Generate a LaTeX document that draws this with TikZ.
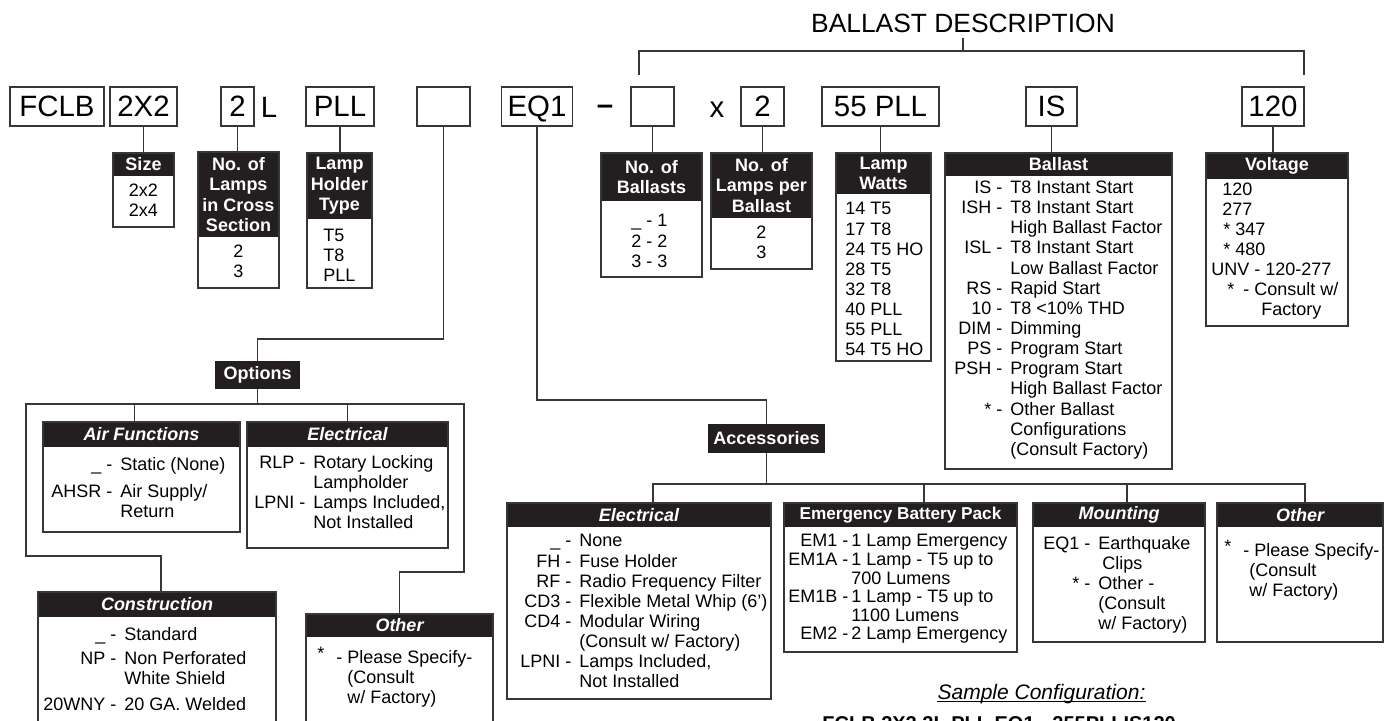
\documentclass[tikz,border=0pt]{standalone}
\usepackage{fontspec}
\usepackage{array}
\setmainfont{Liberation Sans}
\usetikzlibrary{positioning,fit}
\definecolor{barfill}{RGB}{35,31,32}
\definecolor{inkline}{RGB}{55,55,55}
% code column, dash, text column
\newcolumntype{K}{@{}r@{\hspace{2.5pt}}c@{\hspace{4pt}}l@{}}

% one table: name, x1, y1, x2, y2, foot of header bar, header text
\newcommand\opttable[7]{%
  \node[headbar, fit={(#2,#3) (#4,#6)}] (#1h) {};
  \node[headtext] (#1t) at (#1h.center) {#7};
  \node[tablebox, fit={(#2,#3) (#4,#5)}] (#1) {};
}

\begin{document}
\begin{tikzpicture}[x=0.5pt, y=-0.5pt,
  wire/.style={draw=inkline, line width=0.55pt},
  codebox/.style={draw=inkline, line width=0.65pt, inner sep=0pt,
    minimum height=19.5pt, text height=10.5pt, text depth=0pt,
    font=\fontsize{14.7}{16}\selectfont},
  codechar/.style={inner sep=0pt, anchor=base, font=\fontsize{14.7}{16}\selectfont},
  tablebox/.style={draw=inkline, line width=0.65pt, inner sep=0pt},
  headbar/.style={fill=barfill, inner sep=0pt},
  headtext/.style={text=white, inner sep=0pt, align=center,
    font=\bfseries\fontsize{9}{10.3}\selectfont},
  grouplabel/.style={fill=barfill, text=white, inner sep=0pt,
    font=\bfseries\fontsize{9}{10.3}\selectfont},
  body/.style={inner sep=0pt, anchor=base west,
    font=\fontsize{9}{10}\selectfont},
  bodymid/.style={body, anchor=base},
]
\useasboundingbox (0,0) rectangle (1389,721);

% catalogue code row
\node[codebox, minimum width=47pt] (fclb) at (57,106.5) {FCLB};
\node[codebox, minimum width=33.5pt] (sz) at (143.5,106.5) {2X2};
\node[codebox, minimum width=16.5pt] (nl) at (237.5,106.5) {2};
\node[codechar] (lchar) at (269,117.5) {L};
\node[codebox, minimum width=34pt] (lh) at (340,106.5) {PLL};
\node[codebox, minimum width=26.5pt] (opt) at (443.5,106.5) {};
\node[codebox, minimum width=35.5pt] (acc) at (537,106.5) {EQ1};
\node[codechar] (dashchar) at (605,117.5) {\raisebox{1.5pt}{\bfseries\textendash}};
\node[codebox, minimum width=21.5pt] (nb) at (652.5,106.5) {};
\node[codechar] (xchar) at (717,117.5) {x};
\node[codebox, minimum width=21.5pt] (lp) at (762.5,106.5) {2};
\node[codebox, minimum width=58.5pt] (lw) at (880.5,106.5) {55 PLL};
\node[codebox, minimum width=25.5pt] (bt) at (1051.5,106.5) {IS};
\node[codebox, minimum width=31pt] (vt) at (1273,106.5) {120};

% ballast description bracket
\node[inner sep=0pt, anchor=base, font=\fontsize{13.2}{15}\selectfont] (title) at (963,33) {BALLAST DESCRIPTION};
\coordinate (bdl) at (639,75);
\coordinate (bdr) at (1304,75);
\draw[wire] (bdl) |- (1304,51) -- (bdr);
\draw[wire] ([yshift=-2pt]title.south) -- (title.south |- 0,51);

% tables under the code row
\opttable{size}{113}{153}{174}{227}{176}{Size}
\opttable{lamps}{198}{152}{279}{288}{237}{No. of\\Lamps\\in Cross\\Section}
\opttable{holder}{307}{153}{372}{288}{219}{Lamp\\Holder\\Type}
\opttable{nballast}{601}{153}{702}{277}{201}{No. of\\Ballasts}
\opttable{perball}{711}{153}{812}{269}{218}{No. of\\Lamps per\\Ballast}
\opttable{watts}{836}{153}{931}{361}{194}{Lamp\\Watts}
\opttable{ballast}{945}{153}{1172}{469}{176}{Ballast}
\opttable{voltage}{1206}{153}{1348}{326}{179}{Voltage}

\draw[wire] (sz.south) -- (sz.south |- size.north);
\draw[wire] (nl.south) -- (nl.south |- lamps.north);
\draw[wire] (lh.south) -- (lh.south |- holder.north);
\draw[wire] (nb.south) -- (nb.south |- nballast.north);
\draw[wire] (lp.south) -- (lp.south |- perball.north);
\draw[wire] (lw.south) -- (lw.south |- watts.north);
\draw[wire] (bt.south) -- (bt.south |- ballast.north);
\draw[wire] (vt.south) -- (vt.south |- voltage.north);

\node[bodymid] (sizeb) at (143.5,197) {\begin{tabular}[t]{@{}c@{}}2x2\\2x4\end{tabular}};
\node[bodymid] (lampsb) at (238.5,258) {\begin{tabular}[t]{@{}c@{}}2\\3\end{tabular}};
\node[body] (holderb) at (323,242) {\begin{tabular}[t]{@{}l@{}}T5\\T8\\PLL\end{tabular}};
\node[body, font=\fontsize{9}{10.25}\selectfont] (nballastb) at (631,227)
  {\begin{tabular}[t]{@{}r@{ }c@{ }l@{}}\_ & - & 1\\ 2 & - & 2\\ 3 & - & 3\end{tabular}};
\node[bodymid, font=\fontsize{9}{9.75}\selectfont] (perballb) at (761.5,239)
  {\begin{tabular}[t]{@{}c@{}}2\\3\end{tabular}};
\node[body, font=\fontsize{9}{10.05}\selectfont] (wattsb) at (845,215)
  {\begin{tabular}[t]{@{}l@{}}14 T5\\17 T8\\24 T5 HO\\28 T5\\32 T8\\40 PLL\\55 PLL\\54 T5 HO\end{tabular}};
\node[body, font=\fontsize{9}{10.07}\selectfont] (ballastb) at (954,193.5)
  {\begin{tabular}[t]{K}
  IS & - & T8 Instant Start\\
  ISH & - & T8 Instant Start\\
   & & High Ballast Factor\\
  ISL & - & T8 Instant Start\\
   & & Low Ballast Factor\\
  RS & - & Rapid Start\\
  10 & - & T8 <10\% THD\\
  DIM & - & Dimming\\
  PS & - & Program Start\\
  PSH & - & Program Start\\
   & & High Ballast Factor\\
  {*} & - & Other Ballast\\
   & & Configurations\\
   & & (Consult Factory)
  \end{tabular}};
\node[body] (voltageb) at (1211,196)
  {\begin{tabular}[t]{@{}l@{}}
   \hspace*{5.5pt}120\\
   \hspace*{5.5pt}277\\
   \hspace*{6pt}* 347\\
   \hspace*{6pt}* 480\\
   UNV - 120-277\\
   \hspace*{8pt}*\hspace{4.5pt}- Consult w/\\
   \hspace*{25pt}Factory
  \end{tabular}};

% options branch
\node[grouplabel, minimum width=42.5pt, minimum height=14pt] (optlbl) at (257.5,375) {Options};
\draw[wire] (opt.south) -- (opt.south |- 0,339) -| (optlbl.north);

\opttable{air}{43}{422}{240}{532}{447}{\itshape Air Functions}
\opttable{eopt}{247}{422}{448}{548}{447}{\itshape Electrical}
\opttable{cons}{38}{592}{276}{770}{617}{\itshape Construction}
\opttable{oopt}{306}{614}{493}{770}{637}{\itshape Other}

\draw[wire] (optlbl.south) -- (optlbl.south |- 0,404);
\draw[wire] ([xshift=-3.5pt]air.north) -- ([xshift=-3.5pt]air.north |- 0,404);
\draw[wire] (eopt.north) -- (eopt.north |- 0,404);
\draw[wire] ([xshift=2pt]cons.north) -- ([xshift=2pt]cons.north |- 0,556)
  -- (26,556) -- (26,404) -- (464,404) -- (464,572)
  -- (oopt.north |- 0,572) -- (oopt.north);

\node[body] (airb) at (51,471)
  {\begin{tabular}[t]{K}
  \_ & - & Static (None)\\[3.5pt]
  AHSR & - & Air Supply/\\
   & & Return
  \end{tabular}};
\node[body] (eoptb) at (254,469)
  {\begin{tabular}[t]{K}
  RLP & - & Rotary Locking\\
   & & Lampholder\\
  LPNI & - & Lamps Included,\\
   & & Not Installed
  \end{tabular}};
\node[body] (consb) at (43,641)
  {\begin{tabular}[t]{K}
  \_ & - & Standard\\[2pt]
  NP & - & Non Perforated\\
   & & White Shield\\[3pt]
  20WNY & - & 20 GA. Welded
  \end{tabular}};
\node[body] (ooptb) at (317,664)
  {\begin{tabular}[t]{@{}l@{}}
   \raisebox{2pt}{*}\hspace{6pt}- Please Specify-\\
   \hspace*{15pt}(Consult\\
   \hspace*{15pt}w/ Factory)
  \end{tabular}};

% accessories branch
\node[grouplabel, minimum width=58.5pt, minimum height=14.5pt] (acclbl) at (766.5,438.5) {Accessories};
\draw[wire] (acc.south) -- (acc.south |- 0,400) -| (acclbl.north);

\opttable{eacc}{507}{503}{771}{699}{527}{\itshape Electrical}
\opttable{emerg}{784}{503}{1017}{652}{527}{\fontsize{8.6}{10}\selectfont Emergency Battery Pack}
\opttable{mount}{1033}{503}{1205}{642}{527}{\itshape Mounting}
\opttable{oacc}{1217}{503}{1383}{642}{527}{\itshape Other}

\draw[wire] (acclbl.south) -- (acclbl.south |- 0,484);
\draw[wire] ([xshift=7pt]eacc.north) |- ([xshift=2.5pt]oacc.north |- 0,484)
  -- ([xshift=2.5pt]oacc.north);
\draw[wire] ([xshift=11.75pt]emerg.north) -- ([xshift=11.75pt]emerg.north |- 0,484);
\draw[wire] ([xshift=4pt]mount.north) -- ([xshift=4pt]mount.north |- 0,484);

\node[body, font=\fontsize{9}{10.07}\selectfont] (eaccb) at (520,547)
  {\begin{tabular}[t]{K}
  \_ & - & None\\
  FH & - & Fuse Holder\\
  RF & - & Radio Frequency Filter\\
  CD3 & - & Flexible Metal Whip (6’)\\
  CD4 & - & Modular Wiring\\
   & & (Consult w/ Factory)\\
  LPNI & - & Lamps Included,\\
   & & Not Installed
  \end{tabular}};
\node[body, font=\fontsize{9}{9.3}\selectfont] (emergb) at (788,547)
  {\begin{tabular}[t]{@{}r@{\hspace{2.5pt}}c@{\hspace{1.5pt}}l@{}}
  EM1 & - & 1 Lamp Emergency\\
  EM1A & - & 1 Lamp - T5 up to\\
   & & 700 Lumens\\
  EM1B & - & 1 Lamp - T5 up to\\
   & & 1100 Lumens\\
  EM2 & - & 2 Lamp Emergency
  \end{tabular}};
\node[body] (mountb) at (1043,550)
  {\begin{tabular}[t]{K}
  EQ1 & - & Earthquake\\
   & & \hspace{2pt}Clips\\
  {*} & - & Other -\\
   & & (Consult\\
   & & w/ Factory)
  \end{tabular}};
\node[body] (oaccb) at (1224,557)
  {\begin{tabular}[t]{@{}l@{}}
   \raisebox{2pt}{*}\hspace{6pt}- Please Specify-\\
   \hspace*{12.5pt}(Consult\\
   \hspace*{12.5pt}w/ Factory)
  \end{tabular}};

% sample line
\node[inner sep=0pt, anchor=base, font=\itshape\fontsize{10.5}{12}\selectfont] (sample) at (1041.5,700) {Sample Configuration:};
\draw[line width=0.5pt] ([yshift=-1pt]sample.base west) -- ([yshift=-1pt]sample.base east);
\node[inner sep=0pt, anchor=base west, font=\bfseries\fontsize{10}{12}\selectfont] (samplecode) at (822,731) {FCLB 2X2 2L PLL EQ1 - 255PLLIS120};
\end{tikzpicture}
\end{document}
